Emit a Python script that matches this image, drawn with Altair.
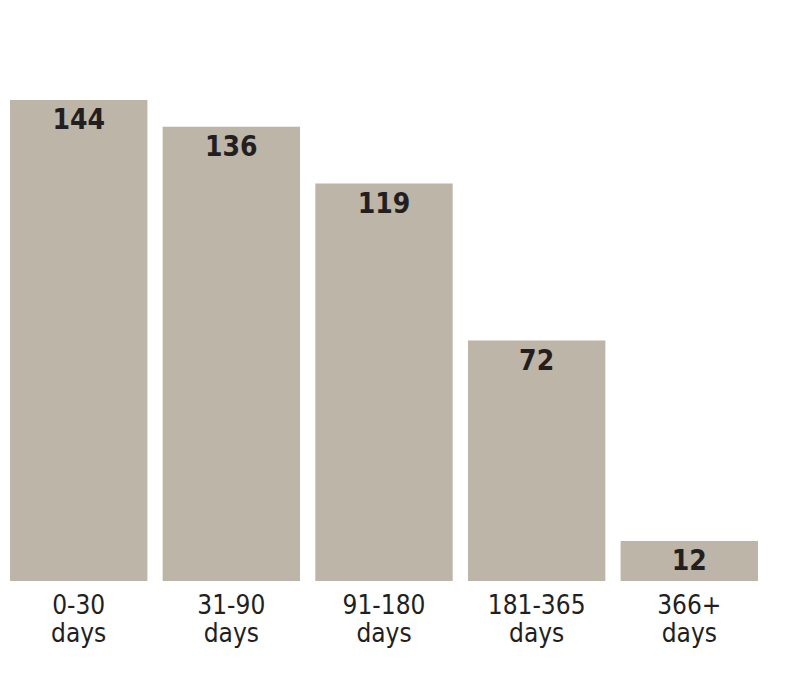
import altair as alt
import pandas as pd

categories = ["0-30 days", "31-90 days", "91-180 days", "181-365 days", "366+ days"]
values = [144, 136, 119, 72, 12]

df = pd.DataFrame({"cat": categories, "val": values})

FONT = "Liberation Sans Narrow, DejaVu Sans Condensed, sans-serif"

base = alt.Chart(df).encode(
    x=alt.X("cat:N", sort=categories,
            scale=alt.Scale(paddingInner=0.1, paddingOuter=0),
            axis=alt.Axis(title=None, domain=False, ticks=False, labelAngle=0,
                          labelExpr="split(datum.label, ' ')",
                          labelFont=FONT, labelFontSize=26, labelColor="#231f20",
                          labelLineHeight=28, labelPadding=24, labelBaseline="middle")),
    y=alt.Y("val:Q", scale=alt.Scale(domain=[0, 150], nice=False),
            axis=None),
)

bars = base.mark_bar(color="#bdb5a8")
labels = base.mark_text(baseline="top", dy=7, font=FONT, fontSize=28,
                        fontWeight="bold", color="#231f20").encode(text="val:Q")

chart = (bars + labels).properties(
    width=748, height=501,
    autosize=alt.AutoSizeParams(type="none"),
    padding={"left": 2, "top": 72, "right": 30, "bottom": 95},
).configure(background="white").configure_view(stroke=None, strokeWidth=0)

chart.save("out.html", embed_options={"renderer": "svg", "actions": False})
